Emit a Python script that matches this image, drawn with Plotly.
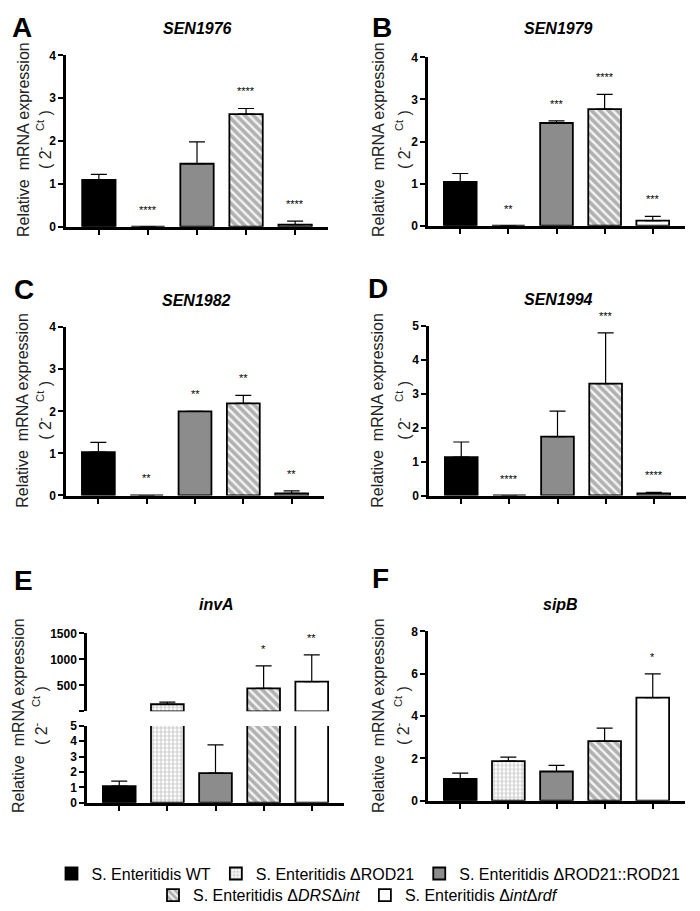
import plotly.graph_objects as go

W, H = 700, 911

# ---------------- data ----------------
groups = ["S. Enteritidis WT", "S. Enteritidis ΔROD21", "S. Enteritidis ΔROD21::ROD21",
          "S. Enteritidis Δ<i>DRS</i>Δ<i>int</i>", "S. Enteritidis Δ<i>int</i>Δ<i>rdf</i>"]

titles = ["SEN1976", "SEN1979", "SEN1982", "SEN1994", "invA", "sipB"]
letters = ["A", "B", "C", "D", "E", "F"]

A_mean = [1.09, 0.0, 1.47, 2.63, 0.05]
A_err = [0.13, 0.0, 0.51, 0.13, 0.08]
A_sig = ["", "****", "", "****", "****"]

B_mean = [1.04, 0.0, 2.44, 2.77, 0.12]
B_err = [0.20, 0.0, 0.05, 0.35, 0.10]
B_sig = ["", "**", "***", "****", "***"]

C_mean = [1.03, 0.0, 2.0, 2.19, 0.05]
C_err = [0.23, 0.0, 0.0, 0.19, 0.06]
C_sig = ["", "**", "**", "**", "**"]

D_mean = [1.13, 0.0, 1.74, 3.30, 0.06]
D_err = [0.45, 0.0, 0.75, 1.50, 0.03]
D_sig = ["", "****", "", "***", "****"]

E_mean = [1.08, 137, 1.92, 442, 573]
E_err = [0.32, 43, 1.85, 431, 513]
E_sig = ["", "", "", "*", "**"]

F_mean = [1.03, 1.87, 1.38, 2.82, 4.87]
F_err = [0.27, 0.19, 0.29, 0.61, 1.12]
F_sig = ["", "", "", "", "*"]

panel_means = [A_mean, B_mean, C_mean, D_mean, E_mean, F_mean]
panel_errs = [A_err, B_err, C_err, D_err, E_err, F_err]
panel_sigs = [A_sig, B_sig, C_sig, D_sig, E_sig, F_sig]

yticks = [[0, 1, 2, 3, 4], [0, 1, 2, 3, 4], [0, 1, 2, 3, 4], [0, 1, 2, 3, 4, 5],
          [0, 1, 2, 3, 4, 5], [0, 2, 4, 6, 8]]
yranges = [[0, 4], [0, 4], [0, 4], [0, 5], [0, 5], [0, 8]]
E_upper_ticks = [5, 500, 1000, 1500]
E_upper_text = ["", "500", "1000", "1500"]
E_upper_range = [5, 1500]

# ---------------- layout geometry (pixels) ----------------
# (x_left, x_right, y_bottom, y_top)
boxes = [(58, 320, 215, 41), (420, 677, 214, 43), (58, 316, 488, 317),
         (421, 678, 488, 316), (79, 336, 800, 722), (420, 677, 798, 626)]
E_upper_box = (707, 628)
title_pos = [(190, 14), (550, 14), (188, 290), (550, 289), (208, 599), (552, 599)]
letter_pos = [(14, 13), (374, 13), (16, 279), (370, 278), (15, 574), (372, 572)]
ytitle_pos = [(15, 36, 127), (370, 395, 127), (15, 36, 402), (370, 395, 402),
              (10, 32, 712), (370, 394, 712)]

fills = [
    dict(color="#000000"),
    dict(color="#ffffff", pattern=dict(shape="+", fgcolor="#9a9a9a", bgcolor="#ffffff",
                                       size=4, solidity=0.5)),
    dict(color="#8c8c8c"),
    dict(color="#ffffff", pattern=dict(shape="\\", fgcolor="#6e6e6e", bgcolor="#f4f4f4",
                                       size=6, solidity=0.6)),
    dict(color="#ffffff"),
]


def xf(px):
    return px / W


def yf(py):
    return 1 - py / H


fig = go.Figure()
XR = [-0.67, 4.67]
BW = 0.68

axis_common = dict(showline=True, linecolor="black", linewidth=2.5, ticks="outside",
                   tickcolor="black", showgrid=False, zeroline=False, mirror=False)

annotations = []


def add_bars(p, xa, ya, show_legend, floor=None):
    means = panel_means[p]
    errs = panel_errs[p]
    for g in range(5):
        val = means[g]
        if floor is not None and val <= floor:
            continue
        marker = dict(line=dict(color="black", width=1.8))
        marker.update(fills[g])
        fig.add_trace(go.Bar(
            x=[g], y=[val], width=BW, name=groups[g], legendgroup=groups[g],
            showlegend=show_legend, legend="legend" if g < 3 else "legend2",
            xaxis=xa, yaxis=ya, marker=marker,
            error_y=dict(type="data", array=[errs[g]], arrayminus=[0], symmetric=False,
                         color="black", thickness=1.2, width=8, visible=True),
        ))


for p in range(6):
    n = p + 1
    xl, xr, yb, yt = boxes[p]
    xa = "x" if n == 1 else f"x{n}"
    ya = "y" if n == 1 else f"y{n}"
    add_bars(p, xa, ya, p == 0)
    fig.layout[f"xaxis{'' if n == 1 else n}"] = dict(
        domain=[xf(xl), xf(xr)], range=XR, anchor=ya, tickvals=[0, 1, 2, 3, 4],
        showticklabels=False, ticklen=6, tickwidth=2, fixedrange=True, **axis_common)
    fig.layout[f"yaxis{'' if n == 1 else n}"] = dict(
        domain=[yf(yb), yf(yt)], range=yranges[p], anchor=xa, tickvals=yticks[p],
        ticklen=5, tickwidth=2,
        tickfont=dict(family="Arial", size=12, color="black", weight="bold"),
        **axis_common)

    # significance stars
    for g in range(5):
        s = panel_sigs[p][g]
        if not s:
            continue
        top = panel_means[p][g] + panel_errs[p][g]
        yref = ya
        if p == 4 and top > yranges[4][1]:
            yref = "y7"
        annotations.append(dict(x=g, y=top, xref=xa, yref=yref, text=s, showarrow=False,
                                xanchor="center", yanchor="middle", yshift=17,
                                font=dict(family="Arial", size=11, color="black")))

    # titles
    tx, ty = title_pos[p]
    annotations.append(dict(x=xf(tx), y=yf(ty), xref="paper", yref="paper",
                            xanchor="center", yanchor="middle",
                            text=f"<b><i>{titles[p]}</i></b>", showarrow=False,
                            font=dict(family="Arial", size=16, color="black")))
    lx, ly = letter_pos[p]
    annotations.append(dict(x=xf(lx), y=yf(ly), xref="paper", yref="paper",
                            xanchor="center", yanchor="middle",
                            text=f"<b>{letters[p]}</b>", showarrow=False,
                            font=dict(family="Arial", size=28, color="black")))
    l1x, l2x, lyc = ytitle_pos[p]
    annotations.append(dict(x=xf(l1x), y=yf(lyc), xref="paper", yref="paper",
                            xanchor="center", yanchor="middle",
                            text="Relative\u00a0\u00a0mRNA expression", textangle=-90,
                            showarrow=False, font=dict(family="Arial", size=16, color="#222")))
    annotations.append(dict(x=xf(l2x), y=yf(lyc), xref="paper", yref="paper",
                            xanchor="center", yanchor="middle",
                            text="( 2<sup>-\u00a0\u00a0\u00a0\u00a0\u00a0Ct</sup> )", textangle=-90,
                            showarrow=False, font=dict(family="Arial", size=16, color="#222")))

# E upper segment (broken axis): only bars reaching above the lower segment
add_bars(4, "x5", "y7", False, floor=E_upper_range[0])
fig.layout["yaxis7"] = dict(
    domain=[yf(E_upper_box[0]), yf(E_upper_box[1])], range=E_upper_range, anchor="x5",
    tickvals=E_upper_ticks, ticktext=E_upper_text, ticklen=5, tickwidth=2,
    tickfont=dict(family="Arial", size=12, color="black", weight="bold"), **axis_common)

legend_font = dict(family="Liberation Sans Narrow, Arial Narrow, Arial", size=16, color="black")
fig.update_layout(
    width=W, height=H, margin=dict(l=0, r=0, t=0, b=0),
    paper_bgcolor="white", plot_bgcolor="white", barmode="overlay",
    annotations=annotations, showlegend=True,
    legend=dict(orientation="h", x=0.515, xanchor="center", y=yf(872), yanchor="middle",
                font=legend_font, itemwidth=30, tracegroupgap=0, bgcolor="rgba(0,0,0,0)"),
    legend2=dict(orientation="h", x=0.5, xanchor="center", y=yf(894), yanchor="middle",
                 font=legend_font, itemwidth=30, tracegroupgap=0, bgcolor="rgba(0,0,0,0)"),
)

fig.write_html("out.html")
